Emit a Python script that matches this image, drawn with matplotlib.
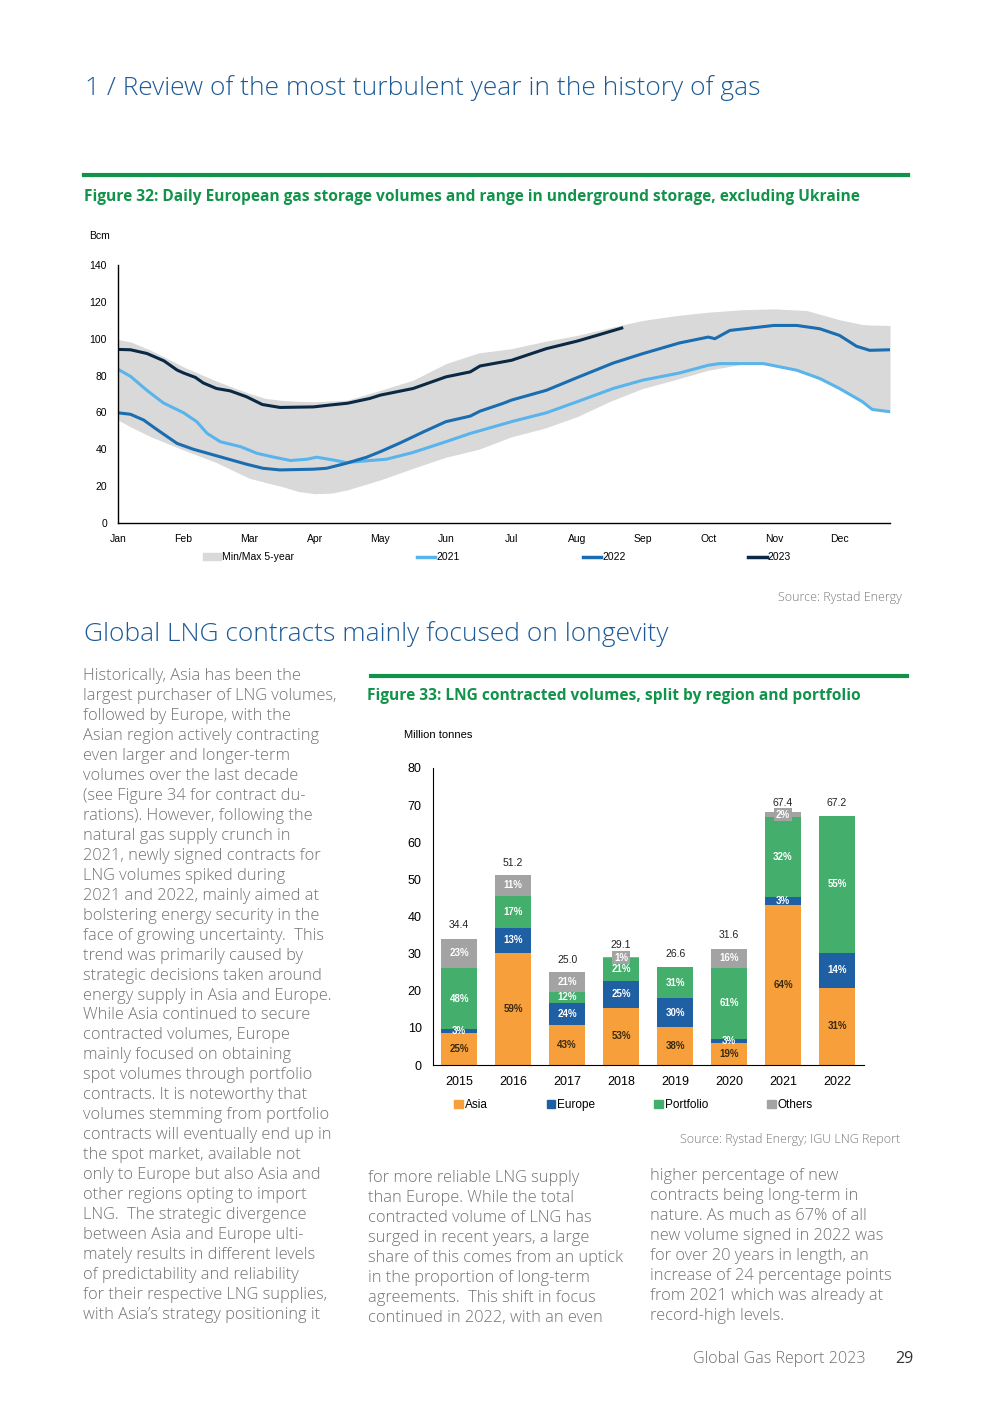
import matplotlib
matplotlib.use('Agg')
import matplotlib.pyplot as plt
from matplotlib.patches import Patch
from matplotlib.lines import Line2D

# page size in pixels
W, H = 987, 1403

# ---- Figure 32 data: daily European gas storage (Bcm), x in months from Jan 1 ----
months = ['Jan', 'Feb', 'Mar', 'Apr', 'May', 'Jun', 'Jul', 'Aug', 'Sep', 'Oct', 'Nov', 'Dec']

band_x = [0.0, 0.2, 0.5, 1.0, 1.5, 2.0, 2.25, 2.5, 2.75, 3.0, 3.25, 3.5, 4.0, 4.5, 5.0,
          5.5, 6.0, 6.5, 7.0, 7.5, 8.0, 8.5, 9.0, 9.5, 10.0, 10.5, 11.0, 11.35, 11.5, 11.77]
band_max = [99.6, 98.2, 93.7, 84.7, 77.0, 70.3, 67.6, 66.5, 66.0, 65.8, 66.2, 66.7, 72.0, 77.5, 86.5,
            92.3, 94.6, 98.5, 101.8, 106.0, 109.9, 112.5, 114.4, 115.7, 116.2, 115.3, 110.3, 107.7, 107.4, 107.2]
band_min = [55.9, 52.0, 46.8, 39.6, 32.8, 24.3, 22.0, 19.8, 17.1, 15.9, 16.2, 18.0, 23.4, 29.7, 35.7,
            40.0, 46.8, 51.4, 57.7, 66.0, 73.0, 77.8, 82.9, 86.1, 86.1, 81.0, 73.0, 65.8, 61.6, 59.8]

x2021 = [0.0, 0.19, 0.44, 0.69, 1.0, 1.2, 1.36, 1.56, 1.87, 2.12, 2.38, 2.63, 2.88, 3.03, 3.28,
         3.48, 3.84, 4.09, 4.49, 5.0, 5.37, 5.52, 6.0, 6.53, 7.0, 7.55, 8.0, 8.56, 9.0, 9.17,
         9.84, 10.35, 10.7, 11.0, 11.35, 11.5, 11.77]
y2021 = [83.4, 79.6, 72.0, 65.2, 59.8, 55.0, 48.6, 44.1, 41.4, 37.8, 35.7, 33.9, 34.6, 35.7, 34.2,
         32.8, 33.9, 34.6, 38.2, 44.1, 48.6, 50.1, 55.0, 59.8, 65.8, 73.0, 77.5, 81.4, 85.6, 86.5,
         86.5, 82.9, 78.4, 73.0, 65.8, 61.6, 60.4]

x2022 = [0.0, 0.19, 0.39, 0.59, 0.9, 1.15, 1.45, 1.76, 1.96, 2.21, 2.47, 2.98, 3.18, 3.48,
         3.79, 4.0, 4.31, 4.66, 5.0, 5.37, 5.52, 5.87, 6.0, 6.53, 7.0, 7.55, 8.0, 8.56, 9.0,
         9.1, 9.33, 10.0, 10.35, 10.7, 11.0, 11.26, 11.46, 11.77]
y2022 = [59.8, 59.0, 55.9, 50.8, 43.2, 40.0, 37.0, 33.9, 31.9, 29.7, 28.8, 29.2, 29.7, 32.4,
         35.7, 38.7, 43.6, 49.5, 55.0, 58.0, 60.7, 64.9, 66.7, 72.0, 78.9, 86.8, 91.9, 97.7, 100.9,
         100.0, 104.5, 107.2, 107.2, 105.4, 101.8, 95.9, 93.7, 94.0]

x2023 = [0.0, 0.19, 0.44, 0.7, 0.9, 1.0, 1.18, 1.3, 1.5, 1.71, 1.96, 2.2, 2.47, 2.98, 3.23,
         3.5, 3.84, 4.0, 4.5, 5.0, 5.37, 5.52, 6.0, 6.53, 7.0, 7.3, 7.68]
y2023 = [94.2, 94.0, 92.0, 88.0, 83.0, 81.4, 79.0, 76.0, 73.0, 71.7, 68.5, 64.3, 62.7, 63.0, 64.0,
         65.0, 67.6, 69.4, 73.0, 79.3, 82.0, 85.2, 88.3, 94.6, 98.7, 101.8, 105.8]

# ---- Figure 33 data: LNG contracted volumes (million tonnes) and shares (%) ----
years = ['2015', '2016', '2017', '2018', '2019', '2020', '2021', '2022']
totals = [34.4, 51.2, 25.0, 29.1, 26.6, 31.6, 67.4, 67.2]
asia_pct = [25, 59, 43, 53, 38, 19, 64, 31]
europe_pct = [3, 13, 24, 25, 30, 3, 3, 14]
portfolio_pct = [48, 17, 12, 21, 31, 61, 32, 55]
others_pct = [23, 11, 21, 1, 0, 16, 2, 0]

left_col = [
    "Historically, Asia has been the",
    "largest purchaser of LNG volumes,",
    "followed by Europe, with the",
    "Asian region actively contracting",
    "even larger and longer-term",
    "volumes over the last decade",
    "(see Figure 34 for contract du-",
    "rations). However, following the",
    "natural gas supply crunch in",
    "2021, newly signed contracts for",
    "LNG volumes spiked during",
    "2021 and 2022, mainly aimed at",
    "bolstering energy security in the",
    "face of growing uncertainty.  This",
    "trend was primarily caused by",
    "strategic decisions taken around",
    "energy supply in Asia and Europe.",
    "While Asia continued to secure",
    "contracted volumes, Europe",
    "mainly focused on obtaining",
    "spot volumes through portfolio",
    "contracts. It is noteworthy that",
    "volumes stemming from portfolio",
    "contracts will eventually end up in",
    "the spot market, available not",
    "only to Europe but also Asia and",
    "other regions opting to import",
    "LNG.  The strategic divergence",
    "between Asia and Europe ulti-",
    "mately results in different levels",
    "of predictability and reliability",
    "for their respective LNG supplies,",
    "with Asia\u2019s strategy positioning it",
]
mid_col = [
    "for more reliable LNG supply",
    "than Europe. While the total",
    "contracted volume of LNG has",
    "surged in recent years, a large",
    "share of this comes from an uptick",
    "in the proportion of long-term",
    "agreements.  This shift in focus",
    "continued in 2022, with an even",
]
right_col = [
    "higher percentage of new",
    "contracts being long-term in",
    "nature. As much as 67% of all",
    "new volume signed in 2022 was",
    "for over 20 years in length, an",
    "increase of 24 percentage points",
    "from 2021 which was already at",
    "record-high levels.",
]

# colours
BLUE_HEAD = '#1b5a96'
GREEN = '#12934a'
BODY = '#727272'
C_BAND = '#d9d9d9'
C21, C22, C23 = '#5ab4ec', '#1a6db0', '#0b2945'
C_ASIA, C_EUR, C_PORT, C_OTH = '#f7a03b', '#1f5fa3', '#44af6c', '#a3a3a3'

BODY_FONT = ['Open Sans', 'DejaVu Sans']
CHART_FONT = ['Liberation Sans', 'DejaVu Sans']


def fx(x):
    return x / W


def fy(y):
    return 1 - y / H


fig = plt.figure(figsize=(W / 100, H / 100), dpi=100)

# ---- page headings ----
fig.text(fx(85), fy(88), "1 / Review of the most turbulent year in the history of gas",
         fontsize=19, color=BLUE_HEAD, family=BODY_FONT, fontweight=300, va='center')
fig.add_artist(Line2D([fx(84), fx(908)], [fy(175), fy(175)], color=GREEN, lw=3))
fig.text(fx(84), fy(197), "Figure 32: Daily European gas storage volumes and range in underground storage, excluding Ukraine",
         fontsize=11.2, color=GREEN, family=BODY_FONT, fontweight='bold', va='center')

# ---- Figure 32: line chart ----
ax1 = fig.add_axes([fx(118), fy(523), (890 - 118) / W, (523 - 265) / H])
ax1.fill_between(band_x, band_min, band_max, color=C_BAND, lw=0, label='Min/Max 5-year')
ax1.plot(x2021, y2021, color=C21, lw=2.2, label='2021')
ax1.plot(x2022, y2022, color=C22, lw=2.2, label='2022')
ax1.plot(x2023, y2023, color=C23, lw=2.2, label='2023')
ax1.set_xlim(0, 11.77)
ax1.set_ylim(0, 140)
ax1.set_xticks(range(12))
ax1.set_xticklabels(months)
ax1.set_yticks(range(0, 141, 20))
ax1.tick_params(length=0, labelsize=7.5, pad=8)
for lab in ax1.get_xticklabels() + ax1.get_yticklabels():
    lab.set_family(CHART_FONT)
for s in ['top', 'right']:
    ax1.spines[s].set_visible(False)
for s in ['left', 'bottom']:
    ax1.spines[s].set_linewidth(1)
fig.text(fx(89), fy(236), "Bcm", fontsize=7.5, family=CHART_FONT, va='center')

h1 = [Patch(color=C_BAND), Line2D([], [], color=C21, lw=2.5),
      Line2D([], [], color=C22, lw=2.5), Line2D([], [], color=C23, lw=2.5)]
fig.legend(h1, ['Min/Max 5-year', '2021', '2022', '2023'], loc='center left',
           bbox_to_anchor=(fx(203), fy(557)), ncol=4, frameon=False, borderpad=0,
           borderaxespad=0, handlelength=1.75, handleheight=0.6, handletextpad=0.1,
           columnspacing=11.8, prop={'family': CHART_FONT, 'size': 7.5})

fig.text(fx(902), fy(597), "Source: Rystad Energy", fontsize=9, color='#7a7a7a',
         family=BODY_FONT, fontweight=300, ha='right', va='center')

# ---- second section ----
fig.text(fx(84), fy(634), "Global LNG contracts mainly focused on longevity",
         fontsize=19, color=BLUE_HEAD, family=BODY_FONT, fontweight=300, va='center')
fig.add_artist(Line2D([fx(371), fx(907)], [fy(676), fy(676)], color=GREEN, lw=3))
fig.text(fx(367), fy(696), "Figure 33: LNG contracted volumes, split by region and portfolio",
         fontsize=11.2, color=GREEN, family=BODY_FONT, fontweight='bold', va='center')
fig.text(fx(404), fy(735), "Million tonnes", fontsize=8, family=CHART_FONT, va='center')

# ---- Figure 33: stacked bars ----
ax2 = fig.add_axes([fx(432.7), fy(1065), (864 - 432.7) / W, (1065 - 768) / H])
xs = range(len(years))
asia = [t * p / 100 for t, p in zip(totals, asia_pct)]
europe = [t * p / 100 for t, p in zip(totals, europe_pct)]
portfolio = [t * p / 100 for t, p in zip(totals, portfolio_pct)]
others = [t * p / 100 for t, p in zip(totals, others_pct)]
b_eur = asia
b_port = [a + e for a, e in zip(asia, europe)]
b_oth = [a + e + p for a, e, p in zip(asia, europe, portfolio)]
bw = 0.67
ax2.bar(xs, asia, bw, color=C_ASIA, label='Asia')
ax2.bar(xs, europe, bw, bottom=b_eur, color=C_EUR, label='Europe')
ax2.bar(xs, portfolio, bw, bottom=b_port, color=C_PORT, label='Portfolio')
ax2.bar(xs, others, bw, bottom=b_oth, color=C_OTH, label='Others')

lab_kw = dict(ha='center', va='center', fontsize=7, fontweight='bold', family=CHART_FONT)
for i in xs:
    ax2.text(i, asia[i] / 2, f"{asia_pct[i]}%", color='#3a2a10', **lab_kw)
    ax2.text(i, b_eur[i] + europe[i] / 2, f"{europe_pct[i]}%", color='white', **lab_kw)
    ax2.text(i, b_port[i] + portfolio[i] / 2, f"{portfolio_pct[i]}%", color='white', **lab_kw)
    if others_pct[i] > 0:
        if others_pct[i] < 5:
            ax2.text(i, b_oth[i] + others[i] / 2, f"{others_pct[i]}%", color='white',
                     bbox=dict(facecolor=C_OTH, edgecolor='none', pad=1.2), **lab_kw)
        else:
            ax2.text(i, b_oth[i] + others[i] / 2, f"{others_pct[i]}%", color='white', **lab_kw)
    ax2.text(i, totals[i] + 3.3, f"{totals[i]:.1f}", ha='center', va='center',
             fontsize=7.5, family=CHART_FONT, color='#222222')

ax2.set_xlim(-0.49, 7.5)
ax2.set_ylim(0, 80)
ax2.set_xticks(list(xs))
ax2.set_xticklabels(years)
ax2.set_yticks(range(0, 81, 10))
ax2.tick_params(length=0, labelsize=9, pad=8)
for lab in ax2.get_xticklabels() + ax2.get_yticklabels():
    lab.set_family(CHART_FONT)
for s in ['top', 'right']:
    ax2.spines[s].set_visible(False)

h2 = [Patch(color=c) for c in (C_ASIA, C_EUR, C_PORT, C_OTH)]
fig.legend(h2, ['Asia', 'Europe', 'Portfolio', 'Others'], loc='center left',
           bbox_to_anchor=(fx(454), fy(1105)), ncol=4, frameon=False, borderpad=0,
           borderaxespad=0, handlelength=0.75, handleheight=0.75, handletextpad=0.15,
           columnspacing=5.0, prop={'family': CHART_FONT, 'size': 8.5})

fig.text(fx(900), fy(1140), "Source: Rystad Energy; IGU LNG Report", fontsize=9, color='#7a7a7a',
         family=BODY_FONT, fontweight=300, ha='right', va='center')

# ---- body text columns ----
for k, line in enumerate(left_col):
    fig.text(fx(83), fy(676 + k * 19.97), line, fontsize=11.8, color=BODY,
             family=BODY_FONT, fontweight=300, va='center')
for k, line in enumerate(mid_col):
    fig.text(fx(368), fy(1178 + k * 20), line, fontsize=11.8, color=BODY,
             family=BODY_FONT, fontweight=300, va='center')
for k, line in enumerate(right_col):
    fig.text(fx(650), fy(1176 + k * 20), line, fontsize=11.8, color=BODY,
             family=BODY_FONT, fontweight=300, va='center')

# ---- footer ----
fig.text(fx(866), fy(1359), "Global Gas Report 2023", fontsize=11.6, color='#707070',
         family=BODY_FONT, fontweight=300, ha='right', va='center')
fig.text(fx(914), fy(1359), "29", fontsize=11.6, color='#333333',
         family=BODY_FONT, ha='right', va='center')

fig.savefig('out.png', dpi=100)
